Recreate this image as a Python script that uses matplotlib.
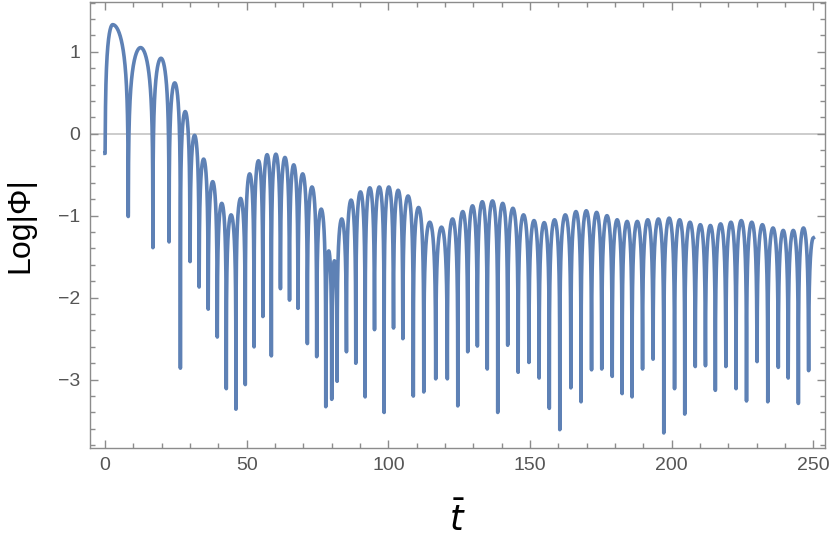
import numpy as np
import matplotlib
matplotlib.use("Agg")
import matplotlib.pyplot as plt
from matplotlib.ticker import MultipleLocator

# ---- data ----
# cusps of the curve (start point, every dip, end point): time and Log|Phi|
node_t = [0.0, 8.2, 16.9, 22.6, 26.6, 30.0, 33.2, 36.4, 39.6, 42.8, 46.2,
          49.5, 52.6, 55.7, 58.7, 61.9, 65.1, 68.1, 71.4, 74.7, 77.9,
          80.0, 81.9, 85.2, 88.5, 91.8, 95.1, 98.5, 101.8, 105.1, 108.8,
          112.5, 116.7, 120.8, 124.5, 128.0, 131.4, 134.9, 138.6, 142.1, 145.8,
          149.6, 153.2, 156.8, 160.5, 164.4, 168.0, 171.7, 175.3, 179.0, 182.5,
          186.0, 189.7, 193.4, 197.2, 201.0, 204.6, 208.3, 211.9, 215.4, 219.1,
          222.7, 226.4, 230.1, 233.9, 237.6, 241.1, 244.7, 248.3, 250.0]
node_v = [-0.24, -1.01, -1.39, -1.32, -2.86, -1.56, -1.87, -2.14, -2.48, -3.11, -3.36,
          -3.06, -2.60, -2.23, -2.71, -1.89, -2.03, -2.13, -2.56, -2.72, -3.33,
          -3.24, -3.02, -2.66, -2.80, -3.21, -2.39, -3.40, -2.37, -2.50, -3.20,
          -3.15, -2.99, -2.99, -3.32, -2.66, -2.59, -2.87, -3.40, -2.58, -2.91,
          -2.79, -2.98, -3.35, -3.61, -3.10, -3.27, -2.88, -2.87, -2.96, -3.17,
          -3.21, -2.87, -2.75, -3.65, -3.11, -3.42, -2.84, -2.83, -3.13, -2.84,
          -3.11, -3.26, -2.78, -3.27, -2.85, -2.98, -3.29, -2.89, -1.27]
# top of each arch between consecutive cusps
peak_v = [1.33, 1.05, 0.92, 0.62, 0.27, -0.02, -0.31, -0.585, -0.85, -0.99,
          -0.79, -0.49, -0.33, -0.256, -0.25, -0.29, -0.38, -0.49, -0.65, -0.92,
          -1.43, -1.55, -1.04, -0.81, -0.71, -0.66, -0.65, -0.65, -0.69, -0.76,
          -0.90, -1.08, -1.14, -1.04, -0.95, -0.88, -0.83, -0.82, -0.85, -0.91,
          -0.99, -1.06, -1.085, -1.05, -0.99, -0.95, -0.94, -0.96, -1.00, -1.05,
          -1.07, -1.07, -1.05, -1.04, -1.03, -1.05, -1.08, -1.11, -1.12, -1.10,
          -1.08, -1.06, -1.08, -1.11, -1.15, -1.18, -1.18, -1.15, -1.27]
first_peak_t = 2.7

x_ticks = [0, 50, 100, 150, 200, 250]
y_ticks = [-3, -2, -1, 0, 1]

# ---- build the drawn curve: log-shaped arch between cusps ----
nt = np.array(node_t)
nv = np.array(node_v)
peak_t = (nt[:-1] + nt[1:]) / 2
peak_t[0] = first_peak_t
peak_t[-1] = nt[-1]

T, V = [], []
for i, pv in enumerate(peak_v):
    a, b, p = nt[i], nt[i + 1], peak_t[i]
    u = np.linspace(0, 1, 160)
    tl = a + (p - a) * u
    with np.errstate(divide="ignore"):
        vl = pv + np.log10(np.sin(u * np.pi / 2))
    vl = np.maximum(vl, nv[i])
    T.append(tl); V.append(vl)
    if b > p:
        tr = p + (b - p) * u[1:]
        with np.errstate(divide="ignore"):
            vr = pv + np.log10(np.sin(np.pi / 2 + u[1:] * np.pi / 2))
        vr = np.maximum(vr, nv[i + 1])
        T.append(tr); V.append(vr)
T = np.concatenate(T)
V = np.concatenate(V)

# ---- figure ----
plt.rcParams['font.family'] = ['Liberation Sans Narrow', 'Liberation Sans', 'DejaVu Sans']
W, H = 830, 545
fig = plt.figure(figsize=(W / 100, H / 100), dpi=100)
L, R, TOP, BOT = 90, 825, 1.7, 447.7
ax = fig.add_axes([L / W, 1 - BOT / H, (R - L) / W, (BOT - TOP) / H])

ax.axhline(0, color="#c4c4c4", lw=1.2, zorder=1)
ax.plot(T, V, color="#5e81b5", lw=2.6, solid_joinstyle="round", zorder=3)

ax.set_xlim(-5.3, 254.1)
ax.set_ylim(-3.83, 1.61)
ax.set_xticks(x_ticks)
ax.set_yticks(y_ticks)
ax.xaxis.set_minor_locator(MultipleLocator(10))
ax.yaxis.set_minor_locator(MultipleLocator(0.2))

frame_col = "#8c8c8c"
for s in ax.spines.values():
    s.set_color(frame_col)
    s.set_linewidth(1.0)
ax.tick_params(which="both", direction="in", top=True, right=True,
               color=frame_col, width=1.0)
ax.tick_params(which="major", length=6, labelsize=14, labelcolor="#555555", pad=7)
ax.tick_params(which="minor", length=3.5)

ax.set_xlabel(r"$\bar{t}$", fontsize=25, color="black", labelpad=20)
ax.set_ylabel("Log|Φ|", fontsize=23, color="black", labelpad=16)

fig.savefig("out.png", dpi=100)
